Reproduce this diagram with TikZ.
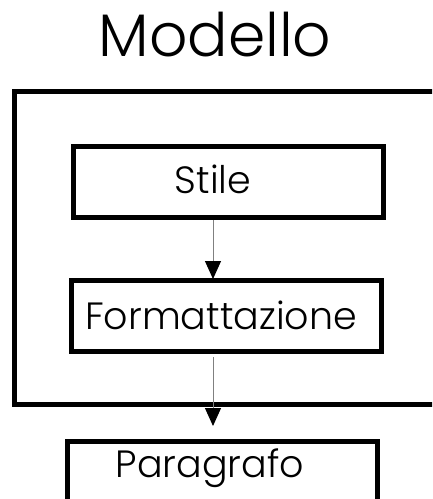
\documentclass[tikz,border=0pt]{standalone}
\usepackage{fontspec}
\setmainfont{Poppins}[UprightFont=* Light]
\usetikzlibrary{arrows.meta}
\begin{document}
\begin{tikzpicture}[x=1pt,y=-1pt,
  box/.style={draw=black, line width=5pt, inner sep=0pt, minimum width=310pt, minimum height=71pt},
  lbl/.style={font=\fontsize{38}{44}\selectfont, inner sep=0pt},
  conn/.style={draw=black!50, line width=1pt, -{Triangle[length=18pt,width=16pt,fill=black,color=black]}}]
\useasboundingbox (0,0) rectangle (432,499);
\clip (0,0) rectangle (432,499);
\node[font=\fontsize{60}{68}\selectfont] (title) at (215,35) {Modello};
\node[draw=black, line width=5pt, minimum width=440pt, minimum height=313pt, inner sep=0pt, anchor=north west] (outer) at (11.5,88.5) {};
\node[box] (stile) at (228,182) {};
\node[lbl] (stilet) at (213,179) {Stile};
\node[box, minimum height=71pt] (form) at (226,316) {};
\node[lbl] (formt) at (221,315) {Formattazione};
\node[box, anchor=north, minimum height=90pt] (para) at (222,439) {};
\node[lbl] (parat) at (210,468) {Paragrafo};
\coordinate (a1s) at (213,219);
\coordinate (a2s) at (213,357);
\coordinate (a2e) at (213,426);
\draw[conn] (stile.south -| a1s) -- ([yshift=-1pt]form.north -| a1s);
\draw[conn] (a2s) -- (a2e);
\end{tikzpicture}
\end{document}
